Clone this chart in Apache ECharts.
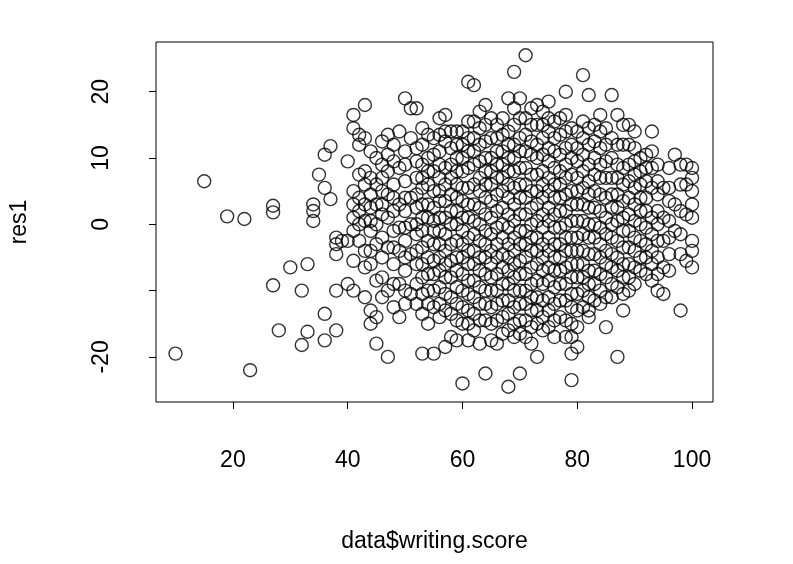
<!DOCTYPE html>
<html>
<head>
<meta charset="utf-8">
<script src="https://cdn.jsdelivr.net/npm/echarts@6/dist/echarts.min.js"></script>
<style>html,body{margin:0;background:#fff}#c{width:793px;height:564px}</style>
</head>
<body>
<div id="c"></div>
<script>
// outliers at low writing scores
let lowScores = [10, 15, 19, 22, 23, 27, 27, 27, 28, 30, 32, 32, 33, 33, 34, 34, 34, 35, 36, 36, 36, 36, 37, 37, 38, 38, 38, 38, 38, 39, 40, 40, 40]
let lowRes = [-19.5, 6.5, 1.2, 0.8, -22, 2.8, 1.8, -9.2, -16, -6.5, -10, -18.2, -6, -16.2, 3, 2, 0.5, 7.5, 10.5, 5.5, -13.5, -17.5, 11.8, 3.8, -2, -3, -4.5, -10, -16, -2.5, 9.5, -2.5, -9]
// residuals per writing score, main cloud (score: residuals)
let cloudRows = {
    41: [16.5, 14.5, 5, 3, 1, -1, -5.5, -10],
    42: [13.5, 12, 7.5, 4, 2, 0, -2.5],
    43: [18, 13, 8, 6, 3, 0.5, -4, -6.5, -11],
    44: [11, 7, 2.5, -1, -4, -13, -15],
    45: [10, 6, 3, 0, -3, -8.5, -14, -18],
    46: [12.5, 9, 5, 1.5, -2, -5, -11],
    47: [13.5, 10.5, 8, 4.5, 1, -3.5, -10, -20],
    48: [12, 6, 2, -1, -6, -12.5],
    49: [14, 8.5, 3, -0.5, -4, -9, -14],
    50: [19, 11, 6.5, 2, -2.5, -7, -12],
    51: [17.5, 13, 4, 0, -4.5, -10.5],
    52: [17.5, 11.5, 7, 2.5, -1.5, -6, -12],
    53: [14.5, 9, 5.5, 1, -3.5, -8, -13.5, -19.5],
    54: [13.5, 10, 6, 3, -5, -10, -15],
    55: [13, 8, 5, 0.5, -3, -7.5, -12.5, -19.5],
    56: [16, 11, 7, 3.5, -1, -5, -9.5, -14],
    57: [16.5, 12.5, 6, 1, -4, -8, -13, -18.5],
    58: [14, 9, 4.5, 0, -5.5, -11, -17],
    59: [14, 10, 6, 2, -2.5, -7, -12, -17.5],
    60: [12, 8, 3.5, -1, -5, -10, -15, -24],
    61: [21.5, 15.5, 11, 5.5, 1, -4, -8.5, -13, -17.5],
    62: [21, 13, 9, 3, -1.5, -6, -11, -16],
    63: [17, 12, 7, 2.5, -2.5, -7, -12, -18],
    64: [18, 12.5, 8, 4, -1, -5, -10, -14.5, -22.5],
    65: [16, 10, 6, 1, -4, -8, -12.5, -17.5],
    66: [15, 11, 7, 2, -3, -7.5, -12, -18],
    67: [13.5, 9, 5, 0, -4.5, -9, -14],
    68: [19, 14, 10, 6, 1.5, -3, -7, -11.5, -16, -24.5],
    69: [23, 17.5, 12, 8, 3, -2, -6, -10, -15],
    70: [19, 13, 8.5, 4, -1, -5.5, -10, -14.5, -22.5],
    71: [25.5, 16, 11, 6, 1.5, -3, -7.5, -12, -17],
    72: [15, 10.5, 5, 0, -4, -9, -13, -18],
    73: [18, 12, 7.5, 3, -2, -6, -11, -15, -20],
    74: [17, 13, 8, 4, -0.5, -5, -9, -14],
    75: [18.5, 14, 9.5, 5, 0.5, -4, -8.5, -13],
    76: [15.5, 11, 6, 1.5, -3, -7, -12, -17],
    77: [16, 10.5, 6, 2, -3, -7, -11.5],
    78: [20, 14, 9, 4.5, 0, -4, -9, -14.5],
    79: [12, 7.5, 3, -2, -6, -10.5, -15, -19.5, -23.5],
    80: [14, 9.5, 5, 0.5, -4, -8, -13, -18.5],
    81: [22.5, 13, 8, 3, -1.5, -6, -10],
    82: [19.5, 12, 6.5, 2.5, -2, -7, -11, -14],
    83: [15, 10, 5, 0, -4.5, -9],
    84: [16.5, 11.5, 7, 2, -3, -7.5, -12],
    85: [12, 7, 1, -4, -8, -15.5],
    86: [19.5, 13, 7, 2.5, -2, -6.5, -11],
    87: [16.5, 9, 4.5, 0.5, -5, -9.5, -20],
    88: [15, 6, 1, -3.5, -8, -13],
    89: [15, 9, 4, -1, -6, -10],
    90: [14, 9.5, 5.5, 0.5, -4, -9],
    91: [10, 6, 2, -2.5, -7],
    92: [10.5, 6.5, 2, -3, -7.5],
    93: [14, 8.5, 1, -4, -8.5],
    94: [9, 4.5, 0, -5, -10],
    95: [5.5, 1, -2.5, -6.5, -10.5],
    96: [8.5, 3.5, -2, -7],
    97: [10.5, 3, -1],
    98: [9, 2, -4.5, -13],
    99: [9, 6, 1.5, -5.5],
    100: [8.5, 7, 5, 3, 1, -2.5, -4, -6.5]
}
// extra residuals filling the dense middle of the cloud
let denseRows = {
    44: [4.5, 0.5, -6], 46: [7, 3, -8], 48: [9.5, 4, -3.5, -9], 50: [9, 4, -0.5, -5, -10],
    52: [9.5, 4.5, 0, -4, -9], 53: [12, 7, 3, -1, -6, -10.5], 54: [8, 1, -2.5, -7.5, -12],
    55: [10.5, 2.5, -1, -5.5, -10], 56: [13.5, 9, 5, 1, -3, -7, -12], 57: [14, 8.5, 3.5, -1.5, -6, -10.5],
    58: [11.5, 7, 2, -3, -8, -13.5], 59: [12, 8, 4, 0, -5, -9.5, -14.5], 60: [14, 10, 5.5, 1, -3, -7.5, -12.5],
    61: [13, 8.5, 3, -2, -6, -10.5, -15], 62: [15.5, 11, 6, 0.5, -4, -8.5, -13.5], 63: [14.5, 9.5, 5, 0, -5, -9.5, -14.5],
    64: [15, 10, 6, 1.5, -3, -7.5, -12], 65: [13, 8, 3.5, -1.5, -6, -10, -15], 66: [13, 9, 4.5, -0.5, -5, -10, -14.5],
    67: [16, 11, 7, 2.5, -2, -6.5, -11.5, -16.5], 68: [12, 8, 4, -0.5, -5, -9, -13.5], 69: [15, 10, 5.5, 0.5, -4, -8, -12.5, -17],
    70: [16, 11, 6, 1.5, -3, -7.5, -12, -16.5], 71: [13.5, 8.5, 4, -1, -5, -10, -14.5], 72: [17.5, 12.5, 7.5, 2.5, -2, -6.5, -11, -15.5],
    73: [15, 10, 5, 0.5, -4, -8.5, -13], 74: [15, 10.5, 6, 1.5, -3, -7, -11.5, -16], 75: [16, 11.5, 7, 2.5, -2, -6.5, -11, -15.5],
    76: [13, 8.5, 4, -0.5, -5, -9.5, -14.5], 77: [13.5, 8, 4, -0.5, -5, -9, -14], 78: [16.5, 11.5, 7, 2, -2, -6.5, -11.5, -17],
    79: [14.5, 10, 5, 0.5, -4, -8, -12.5, -17], 80: [11.5, 7, 3, -2, -6, -10.5, -15.5], 81: [15.5, 10.5, 5.5, 0.5, -4, -8, -12.5],
    82: [14.5, 9, 4.5, 0, -4.5, -9, -13], 83: [12.5, 7.5, 2.5, -2, -7, -11.5], 84: [14, 9, 4.5, -0.5, -5, -10],
    85: [14.5, 9.5, 4, -1.5, -6, -11], 86: [10, 4.5, 0, -4.5, -9], 87: [12, 7, 2.5, -2.5, -7], 88: [12, 8.5, 3.5, -1, -6, -10.5],
    89: [12, 6.5, 1.5, -3.5, -8], 90: [11.5, 7.5, 3, -2, -6.5], 91: [8, 4, 0, -5], 92: [8.5, 4, -0.5, -5],
    93: [11, 5.5, -1.5, -6], 94: [6.5, 2, -2.5, -7.5], 96: [5.5, 0.5, -4.5], 98: [6, -1.5]
}
let xTicks = [20, 40, 60, 80, 100]
let yTicks = [-20, -10, 0, 10, 20]
let yLabels = [-20, 0, 10, 20]

let points = []
for (let i = 0; i < lowScores.length; i++) {
    points.push([lowScores[i], lowRes[i]])
}
;[cloudRows, denseRows].forEach(function (rows) {
    for (let k in rows) {
        rows[k].forEach(function (v) {
            points.push([Number(k), v])
        })
    }
})

let font = 'Liberation Sans, Arial, sans-serif'
let chart = echarts.init(document.getElementById('c'))
chart.setOption({
    animation: false,
    backgroundColor: '#fff',
    grid: {left: 155, top: 42, width: 558, height: 360, show: true, borderColor: '#000', borderWidth: 1},
    xAxis: {
        type: 'value', min: 6.6, max: 103.65,
        name: 'data$writing.score', nameLocation: 'middle', nameGap: 128,
        nameTextStyle: {fontFamily: font, fontSize: 23, color: '#000'},
        splitLine: {show: false}, axisLine: {show: false, onZero: false},
        axisTick: {show: true, length: 7, inside: false, lineStyle: {color: '#000'}, customValues: xTicks},
        axisLabel: {fontFamily: font, fontSize: 23, color: '#000', margin: 47, customValues: xTicks}
    },
    yAxis: {
        type: 'value', min: -26.8, max: 27.5,
        name: 'res1', nameLocation: 'middle', nameGap: 125, nameRotate: 90,
        nameTextStyle: {fontFamily: font, fontSize: 23, color: '#000'},
        splitLine: {show: false}, axisLine: {show: false, onZero: false},
        axisTick: {show: true, length: 7, inside: false, lineStyle: {color: '#000'}, customValues: yTicks},
        axisLabel: {fontFamily: font, fontSize: 23, color: '#000', margin: 54, rotate: 90, verticalAlign: 'middle', align: 'center', customValues: yLabels}
    },
    series: [{
        type: 'scatter',
        data: points,
        symbol: 'circle',
        symbolSize: 13,
        itemStyle: {color: 'rgba(0,0,0,0)', borderColor: '#000', borderWidth: 1.4}
    }]
})
</script>
</body>
</html>
